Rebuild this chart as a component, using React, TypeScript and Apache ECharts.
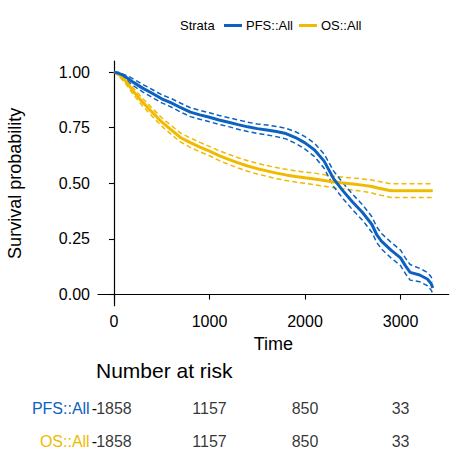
import React, { useEffect, useRef } from "react";
import * as echarts from "echarts";

const FONT = "'Liberation Sans', Arial, Helvetica, sans-serif";
const BLUE = "#0D62C0";
const YELLOW = "#EFBA00";

const strata = ["PFS::All", "OS::All"];
const xTicks = [0, 1000, 2000, 3000];
const yTicks = [0, 0.25, 0.5, 0.75, 1];

const pfsTime = [0, 50, 100, 150, 200, 300, 400, 500, 600, 700, 800, 900, 1000, 1100, 1200, 1300, 1400, 1500, 1600, 1700, 1800, 1900, 2000, 2100, 2200, 2300, 2400, 2500, 2600, 2700, 2750, 2800, 2900, 3000, 3050, 3100, 3200, 3280, 3320, 3337];
const pfsSurv = [1.0, 0.995, 0.985, 0.97, 0.955, 0.928, 0.905, 0.88, 0.862, 0.84, 0.82, 0.808, 0.797, 0.785, 0.775, 0.764, 0.754, 0.746, 0.74, 0.733, 0.724, 0.706, 0.682, 0.65, 0.6, 0.52, 0.465, 0.415, 0.37, 0.315, 0.27, 0.24, 0.2, 0.165, 0.13, 0.1, 0.088, 0.07, 0.05, 0.03];
const pfsUpper = [1.0, 0.998, 0.99, 0.982, 0.97, 0.945, 0.922, 0.898, 0.881, 0.86, 0.84, 0.828, 0.817, 0.805, 0.795, 0.785, 0.775, 0.767, 0.762, 0.756, 0.748, 0.732, 0.71, 0.68, 0.632, 0.555, 0.5, 0.45, 0.405, 0.35, 0.305, 0.275, 0.235, 0.2, 0.165, 0.135, 0.118, 0.1, 0.08, 0.06];
const pfsLower = [1.0, 0.99, 0.978, 0.958, 0.94, 0.911, 0.887, 0.862, 0.843, 0.82, 0.8, 0.788, 0.777, 0.765, 0.755, 0.743, 0.733, 0.725, 0.718, 0.71, 0.7, 0.68, 0.654, 0.62, 0.568, 0.485, 0.43, 0.38, 0.335, 0.28, 0.235, 0.205, 0.165, 0.13, 0.095, 0.065, 0.058, 0.04, 0.02, 0.005];

const osTime = [0, 50, 100, 150, 200, 300, 400, 500, 600, 700, 800, 900, 1000, 1100, 1200, 1300, 1400, 1500, 1600, 1700, 1800, 1900, 2000, 2100, 2200, 2300, 2400, 2500, 2600, 2700, 2750, 2800, 2900, 3000, 3337];
const osSurv = [1.0, 0.99, 0.97, 0.945, 0.915, 0.865, 0.82, 0.776, 0.74, 0.705, 0.683, 0.663, 0.645, 0.625, 0.608, 0.592, 0.578, 0.566, 0.556, 0.546, 0.538, 0.531, 0.525, 0.52, 0.513, 0.506, 0.502, 0.497, 0.492, 0.486, 0.48, 0.476, 0.467, 0.467, 0.467];
const osUpper = [1.0, 0.997, 0.98, 0.958, 0.93, 0.882, 0.838, 0.795, 0.76, 0.725, 0.704, 0.684, 0.666, 0.647, 0.631, 0.615, 0.602, 0.59, 0.58, 0.571, 0.563, 0.556, 0.55, 0.546, 0.539, 0.532, 0.528, 0.524, 0.52, 0.515, 0.51, 0.506, 0.498, 0.498, 0.498];
const osLower = [1.0, 0.983, 0.96, 0.932, 0.9, 0.848, 0.802, 0.757, 0.72, 0.685, 0.662, 0.642, 0.624, 0.603, 0.585, 0.569, 0.554, 0.542, 0.532, 0.521, 0.513, 0.506, 0.5, 0.494, 0.487, 0.48, 0.475, 0.47, 0.464, 0.457, 0.45, 0.446, 0.436, 0.436, 0.436];

const riskTimes = [0, 1000, 2000, 3000];
const pfsRisk = [1858, 1157, 850, 33];
const osRisk = [1858, 1157, 850, 33];

const pairs = (t: number[], s: number[]) => t.map((v, i) => [v, s[i]]);

export default function App() {
  const ref = useRef<HTMLDivElement>(null);
  useEffect(() => {
    if (!ref.current) return;
    const chart = echarts.init(ref.current, null, { renderer: "svg" });
    const xMin = -167;
    const xMax = 3504;
    const mainLine = (name: string, data: number[][], color: string) => ({
      type: "line",
      name,
      xAxisIndex: 0,
      yAxisIndex: 0,
      data,
      showSymbol: false,
      symbol: "none",
      lineStyle: { color, width: 3 },
      itemStyle: { color },
      silent: true,
      z: 3,
    });
    const ciLine = (name: string, data: number[][], color: string) => ({
      type: "line",
      name,
      xAxisIndex: 0,
      yAxisIndex: 0,
      data,
      showSymbol: false,
      symbol: "none",
      lineStyle: { color, width: 1.5, type: [5, 3] },
      itemStyle: { color },
      silent: true,
      z: 2,
    });
    const riskSeries = (label: string, vals: number[]) => ({
      type: "scatter",
      xAxisIndex: 1,
      yAxisIndex: 1,
      symbolSize: 1,
      itemStyle: { color: "transparent" },
      data: riskTimes.map((t, i) => ({ value: [t, label], n: vals[i] })),
      label: {
        show: true,
        position: "inside",
        color: "#000",
        fontSize: 16,
        fontFamily: FONT,
        formatter: (p: any) => String(p.data.n),
      },
      silent: true,
    });
    const option: any = {
      animation: false,
      textStyle: { fontFamily: FONT },
      title: [
        {
          text: "Strata",
          left: 180,
          top: 19,
          padding: 0,
          textStyle: { fontSize: 13, fontWeight: "normal", color: "#000", fontFamily: FONT },
        },
        {
          text: "Number at risk",
          left: 96,
          top: 360,
          padding: 0,
          textStyle: { fontSize: 21, fontWeight: "normal", color: "#000", fontFamily: FONT },
        },
      ],
      legend: {
        data: strata,
        left: 224,
        top: 19,
        padding: 0,
        icon: "rect",
        itemWidth: 18,
        itemHeight: 3,
        itemGap: 6,
        textStyle: { fontSize: 13, color: "#000", fontFamily: FONT, padding: [0, 0, 0, -1] },
      },
      grid: [
        { left: 98, top: 61, right: 8.3, height: 244.7, containLabel: false, outerBoundsMode: "none" },
        { left: 98, top: 391.6, right: 8.3, height: 66.8, containLabel: false, outerBoundsMode: "none" },
      ],
      xAxis: [
        {
          type: "value",
          gridIndex: 0,
          min: xMin,
          max: xMax,
          name: "Time",
          nameLocation: "middle",
          nameGap: 27,
          nameTextStyle: { fontSize: 18, color: "#000", fontFamily: FONT },
          axisLine: { show: true, lineStyle: { color: "#000", width: 1.2 } },
          axisTick: { show: true, length: 5, customValues: xTicks, lineStyle: { color: "#000", width: 1.1 } },
          axisLabel: {
            customValues: xTicks,
            fontSize: 16,
            color: "#000",
            margin: 8,
            fontFamily: FONT,
            formatter: (v: number) => String(v),
          },
          splitLine: { show: false },
        },
        {
          type: "value",
          gridIndex: 1,
          min: xMin,
          max: xMax,
          show: false,
        },
      ],
      yAxis: [
        {
          type: "value",
          gridIndex: 0,
          min: -0.05,
          max: 1.05,
          name: "Survival probability",
          nameLocation: "middle",
          nameGap: 74,
          nameTextStyle: { fontSize: 18, color: "#000", fontFamily: FONT },
          axisLine: { show: true, lineStyle: { color: "#000", width: 1.2 } },
          axisTick: { show: true, length: 5, customValues: yTicks, lineStyle: { color: "#000", width: 1.1 } },
          axisLabel: {
            customValues: yTicks,
            fontSize: 16,
            color: "#000",
            margin: 8,
            fontFamily: FONT,
            formatter: (v: number) => v.toFixed(2),
          },
          splitLine: { show: false },
        },
        {
          type: "category",
          gridIndex: 1,
          inverse: true,
          data: strata,
          axisLine: { show: false },
          axisTick: { show: false },
          axisLabel: {
            fontSize: 16,
            margin: 1,
            fontFamily: FONT,
            formatter: (v: string) => `{${v === "PFS::All" ? "p" : "o"}|${v}}{d|-}`,
            rich: {
              p: { color: BLUE, fontSize: 16, fontFamily: FONT },
              o: { color: YELLOW, fontSize: 16, fontFamily: FONT },
              d: { color: "#000", fontSize: 16, fontFamily: FONT, padding: [0, 0, 0, 2] },
            },
          },
          splitLine: { show: false },
        },
      ],
      series: [
        ciLine("OS upper", pairs(osTime, osUpper), YELLOW),
        ciLine("OS lower", pairs(osTime, osLower), YELLOW),
        ciLine("PFS upper", pairs(pfsTime, pfsUpper), BLUE),
        ciLine("PFS lower", pairs(pfsTime, pfsLower), BLUE),
        mainLine("OS::All", pairs(osTime, osSurv), YELLOW),
        mainLine("PFS::All", pairs(pfsTime, pfsSurv), BLUE),
        riskSeries("PFS::All", pfsRisk),
        riskSeries("OS::All", osRisk),
      ],
    };
    chart.setOption(option);
    return () => chart.dispose();
  }, []);
  return (
    <div
      ref={ref}
      style={{ position: "fixed", left: 0, top: 0, width: 457, height: 473, background: "#fff" }}
    />
  );
}
